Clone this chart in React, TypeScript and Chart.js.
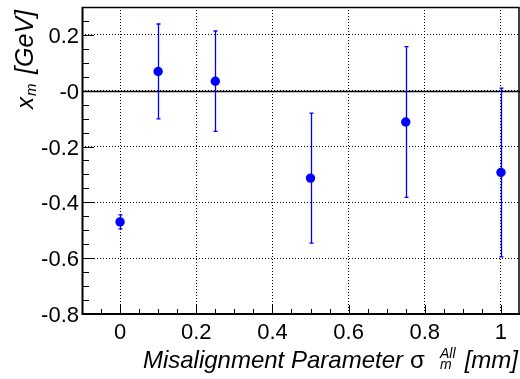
import { useEffect, useRef } from "react";
import { Chart, registerables } from "chart.js";

Chart.register(...registerables);

// Misalignment parameter sigma_m^All [mm] and fitted x_m [GeV] with errors
const SIGMA_M = [0, 0.1, 0.25, 0.5, 0.75, 1.0];
const X_M = [-0.47, 0.069, 0.034, -0.313, -0.112, -0.293];
const X_M_ERR = [0.025, 0.17, 0.18, 0.233, 0.27, 0.302];

// Axis ticks and their labels
const X_TICKS = [0, 0.2, 0.4, 0.6, 0.8, 1.0];
const X_TICK_LABELS = ["0", "0.2", "0.4", "0.6", "0.8", "1"];
const Y_TICKS = [-0.8, -0.6, -0.4, -0.2, 0, 0.2];
const Y_TICK_LABELS = ["-0.8", "-0.6", "-0.4", "-0.2", "-0", "0.2"];
const MINOR_STEP = 0.05;

const FONT = "'Liberation Sans', Arial, Helvetica, sans-serif";
const BLUE = "#0000ff";

const framePlugin = {
  id: "rootFrame",
  beforeDatasetsDraw(chart: any) {
    const { ctx, chartArea, scales } = chart;
    const xs = scales.x;
    const ys = scales.y;
    ctx.save();
    // solid zero line
    const y0 = Math.round(ys.getPixelForValue(0)) + 0.5;
    ctx.strokeStyle = "#000";
    ctx.lineWidth = 1.5;
    ctx.beginPath();
    ctx.moveTo(chartArea.left, y0);
    ctx.lineTo(chartArea.right, y0);
    ctx.stroke();

    // vertical error bars
    ctx.strokeStyle = BLUE;
    ctx.lineWidth = 1.3;
    SIGMA_M.forEach((sx, i) => {
      const px = Math.round(xs.getPixelForValue(sx)) + 0.5;
      const top = ys.getPixelForValue(X_M[i] + X_M_ERR[i]);
      const bot = ys.getPixelForValue(X_M[i] - X_M_ERR[i]);
      ctx.beginPath();
      ctx.moveTo(px, top);
      ctx.lineTo(px, bot);
      ctx.moveTo(px - 2, top);
      ctx.lineTo(px + 2, top);
      ctx.moveTo(px - 2, bot);
      ctx.lineTo(px + 2, bot);
      ctx.stroke();
    });
    ctx.restore();
  },
  afterDraw(chart: any) {
    const { ctx, chartArea, scales } = chart;
    const xs = scales.x;
    const ys = scales.y;
    const { left, right, top, bottom } = chartArea;
    ctx.save();
    ctx.strokeStyle = "#000";

    // inward ticks on the left axis
    ctx.lineWidth = 1;
    ctx.beginPath();
    for (let v = ys.min; v <= ys.max + 1e-9; v += MINOR_STEP) {
      const py = Math.round(ys.getPixelForValue(v)) + 0.5;
      const isMajor = Y_TICKS.some((t) => Math.abs(t - v) < 1e-6);
      ctx.moveTo(left, py);
      ctx.lineTo(left + (isMajor ? 12 : 7), py);
    }
    // inward ticks on the bottom axis
    for (let v = xs.min; v <= xs.max + 1e-9; v += MINOR_STEP) {
      const px = Math.round(xs.getPixelForValue(v)) + 0.5;
      const isMajor = X_TICKS.some((t) => Math.abs(t - v) < 1e-6);
      ctx.moveTo(px, bottom);
      ctx.lineTo(px, bottom - (isMajor ? 9 : 5));
    }
    ctx.stroke();

    // frame
    ctx.lineWidth = 2;
    ctx.beginPath();
    ctx.moveTo(left + 0.5, top);
    ctx.lineTo(left + 0.5, bottom);
    ctx.lineTo(right, bottom);
    ctx.stroke();
    ctx.lineWidth = 1.5;
    ctx.beginPath();
    ctx.moveTo(left, top + 0.5);
    ctx.lineTo(right - 1, top + 0.5);
    ctx.lineTo(right - 1, bottom);
    ctx.stroke();

    // x-axis title
    ctx.fillStyle = "#000";
    ctx.textBaseline = "alphabetic";
    ctx.font = `italic 24px ${FONT}`;
    ctx.textAlign = "right";
    ctx.fillText("Misalignment Parameter", 403, 368);
    ctx.font = `24px ${FONT}`;
    ctx.textAlign = "left";
    ctx.fillText("σ", 410, 368);
    ctx.font = `italic 14px ${FONT}`;
    ctx.fillText("All", 440, 358);
    ctx.fillText("m", 440, 369);
    ctx.font = `italic 24px ${FONT}`;
    ctx.textAlign = "right";
    ctx.fillText("[mm]", 518, 368);

    // y-axis title (rotated)
    ctx.save();
    ctx.translate(33, 109);
    ctx.rotate(-Math.PI / 2);
    ctx.textAlign = "left";
    ctx.font = `italic 24px ${FONT}`;
    ctx.fillText("x", 0, 0);
    const xw = ctx.measureText("x").width;
    ctx.font = `italic 15px ${FONT}`;
    ctx.fillText("m", xw + 1, 3);
    ctx.font = `italic 25px ${FONT}`;
    ctx.textAlign = "right";
    ctx.fillText("[GeV]", 99, 0);
    ctx.restore();

    ctx.restore();
  },
};

export default function App() {
  const canvasRef = useRef<HTMLCanvasElement | null>(null);

  useEffect(() => {
    const canvas = canvasRef.current;
    if (!canvas) return;
    const chart = new Chart(canvas, {
      type: "scatter",
      data: {
        datasets: [
          {
            data: SIGMA_M.map((x, i) => ({ x, y: X_M[i] })),
            backgroundColor: BLUE,
            borderColor: BLUE,
            borderWidth: 0,
            pointRadius: 4.7,
            pointHoverRadius: 4.7,
            showLine: false,
          },
        ],
      },
      options: {
        animation: false,
        responsive: false,
        devicePixelRatio: 1,
        events: [],
        layout: { autoPadding: false, padding: { top: 7, right: 0, left: 0, bottom: 0 } },
        plugins: {
          legend: { display: false },
          tooltip: { enabled: false },
        },
        scales: {
          x: {
            type: "linear",
            min: -0.1,
            max: 1.05,
            afterBuildTicks: (s: any) => {
              s.ticks = X_TICKS.map((value) => ({ value }));
            },
            afterFit: (s: any) => {
              s.height = 65;
              s.paddingLeft = 0;
              s.paddingRight = 0;
            },
            grid: { color: "#000", lineWidth: 1, drawTicks: false },
            border: { display: false, dash: [1, 2] },
            ticks: {
              autoSkip: false,
              maxRotation: 0,
              padding: 6,
              color: "#000",
              font: { family: FONT, size: 22 },
              callback: (_v: any, i: number) => X_TICK_LABELS[i],
            },
          },
          y: {
            type: "linear",
            min: -0.8,
            max: 0.3,
            afterBuildTicks: (s: any) => {
              s.ticks = Y_TICKS.map((value) => ({ value }));
            },
            afterFit: (s: any) => {
              s.width = 82;
              s.paddingTop = 0;
              s.paddingBottom = 0;
            },
            grid: { color: "#000", lineWidth: 1, drawTicks: false },
            border: { display: false, dash: [1, 2] },
            ticks: {
              autoSkip: false,
              padding: 3,
              labelOffset: 2,
              color: "#000",
              font: { family: FONT, size: 22 },
              callback: (_v: any, i: number) => Y_TICK_LABELS[i],
            },
          },
        },
      },
      plugins: [framePlugin],
    });
    return () => chart.destroy();
  }, []);

  return (
    <div style={{ position: "absolute", left: 0, top: 0, width: 520, height: 379, background: "#fff" }}>
      <canvas ref={canvasRef} width={520} height={379} />
    </div>
  );
}
